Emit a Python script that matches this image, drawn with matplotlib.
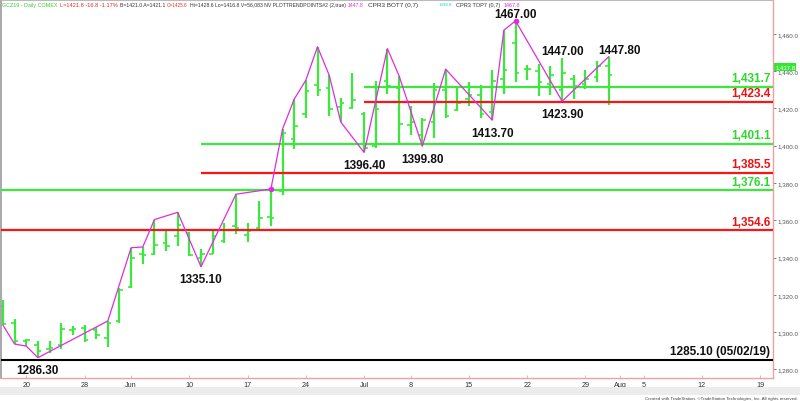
import matplotlib
matplotlib.use('agg')
import matplotlib.pyplot as plt
from matplotlib.textpath import TextPath
from matplotlib.font_manager import FontProperties
import numpy as np

plt.rcParams['font.family'] = ['Liberation Sans', 'DejaVu Sans']

# GCZ19 daily bars, 16 May .. 31 Jul 2019 (one entry per trading day)
opens = [1314.0, 1305.0, 1295.5, 1293.0, 1291.0, 1293.0, 1301.0, 1302.0, 1301.0, 1297.0,
         1306.0, 1324.0, 1342.0, 1342.0, 1348.0, 1351.8, 1353.0, 1340.0, 1342.0, 1349.0,
         1357.0, 1352.0, 1356.0, 1362.0, 1375.8, 1403.5, 1417.0, 1432.7, 1431.0, 1421.0,
         1420.5, 1417.0, 1400.0, 1435.0, 1431.0, 1411.0, 1406.0, 1413.0, 1430.0, 1419.0,
         1425.0, 1427.0, 1418.0, 1435.7, 1455.0, 1441.0, 1440.0, 1433.0, 1430.0, 1436.0,
         1433.0, 1437.0, 1443.0]
highs = [1317.0, 1306.9, 1296.5, 1295.2, 1295.0, 1305.1, 1303.1, 1303.7, 1303.0, 1306.0,
         1323.7, 1345.3, 1345.7, 1360.4, 1354.5, 1364.3, 1353.8, 1344.5, 1354.5, 1358.6,
         1374.0, 1358.6, 1370.2, 1376.8, 1409.0, 1425.0, 1435.2, 1453.1, 1437.9, 1425.6,
         1439.3, 1418.0, 1434.8, 1452.1, 1437.5, 1421.5, 1414.8, 1433.5, 1441.1, 1431.3,
         1434.0, 1432.6, 1440.7, 1462.0, 1467.0, 1443.4, 1443.7, 1442.8, 1447.0, 1437.9,
         1440.5, 1445.5, 1447.8]
lows = [1303.7, 1293.6, 1292.5, 1286.3, 1289.0, 1290.7, 1298.3, 1294.8, 1296.5, 1291.8,
        1305.1, 1323.7, 1336.4, 1341.4, 1343.6, 1346.2, 1340.9, 1335.1, 1341.8, 1348.0,
        1352.8, 1348.5, 1354.2, 1356.9, 1373.7, 1398.5, 1414.8, 1426.5, 1415.9, 1412.7,
        1419.8, 1396.4, 1398.9, 1427.8, 1400.6, 1406.0, 1399.8, 1404.2, 1414.8, 1418.4,
        1421.2, 1414.8, 1413.7, 1427.8, 1434.0, 1435.4, 1426.9, 1427.2, 1423.9, 1425.1,
        1430.4, 1434.0, 1422.0]
closes = [1304.5, 1295.0, 1295.7, 1290.0, 1291.5, 1301.5, 1301.5, 1296.0, 1298.5, 1305.0,
          1322.5, 1340.0, 1341.2, 1347.0, 1346.0, 1357.5, 1341.5, 1342.0, 1351.5, 1355.0,
          1355.7, 1354.0, 1361.0, 1361.0, 1407.0, 1410.5, 1429.5, 1430.0, 1419.5, 1423.0,
          1424.6, 1399.0, 1419.8, 1432.0, 1411.8, 1412.5, 1413.6, 1430.0, 1416.0, 1423.0,
          1427.0, 1417.0, 1434.8, 1440.5, 1439.0, 1441.0, 1434.0, 1438.0, 1439.3, 1432.0,
          1436.0, 1443.0, 1437.8]

tick_pos = [2, 7, 11, 16, 21, 26, 31, 35, 40, 45, 50, 53, 55, 60, 65]
tick_lab = ['20', '28', 'Jun', '10', '17', '24', 'Jul', '8', '15', '22', '29', 'Aug', '5', '12', '19']

# trend points (magenta zigzag)
swing_idx = [0, 1, 2, 3, 9, 11, 12, 13, 15, 17, 20, 23, 24, 25, 26, 27, 28, 29, 31, 33,
             34, 36, 38, 42, 43, 44, 48, 52]
swing_val = [1303.7, 1293.6, 1292.5, 1286.3, 1306.0, 1345.3, 1345.7, 1360.4, 1364.3, 1335.1,
             1374.0, 1376.8, 1409.0, 1425.0, 1435.2, 1453.1, 1437.9, 1412.7, 1396.4, 1452.1,
             1437.5, 1399.8, 1441.1, 1413.7, 1462.0, 1467.0, 1423.9, 1447.8]
dot_idx = [23, 44]
dot_val = [1376.8, 1467.0]

# swing labels
lbl_idx = [44, 48, 52, 48, 42, 36, 31, 17, 3]
lbl_val = [1467.0, 1447.0, 1447.8, 1423.9, 1413.7, 1399.8, 1396.4, 1335.1, 1286.3]
lbl_up = [True, True, True, False, False, False, False, False, False]

# horizontal levels (start None = from the left edge)
green_lv = [1431.7, 1401.1, 1376.1]
green_start = [31, 17, None]
red_lv = [1423.4, 1385.5, 1354.6]
red_start = [31, 17, None]
old_low = 1285.1
old_low_txt = '1285.10 (05/02/19)'

GREEN = '#3de83d'
RED = '#ff1414'
MAG = '#e02ce0'

W, H = 800, 402
fig = plt.figure(figsize=(W / 100, H / 100), dpi=100)
ax = fig.add_axes([1 / W, 23 / H, 772 / W, 378 / H])
XL, XR = -0.17, 66.1
ax.set_xlim(XL, XR)
ax.set_ylim(1275.4, 1478.2)

idx = np.arange(len(opens))
ax.vlines(idx, lows, highs, color=GREEN, lw=1.6, zorder=2)
ax.hlines(opens, idx - 0.3, idx, color=GREEN, lw=1.2, zorder=2)
ax.hlines(closes, idx, idx + 0.3, color=GREEN, lw=1.2, zorder=2)


def level(lv, st, col, tcol):
    x0 = XL if st is None else st
    ax.plot([x0, XR], [lv, lv], color=col, lw=1.6, zorder=3, solid_capstyle='butt')
    ax.annotate(f'{lv:,.1f}', xy=(1, lv), xycoords=('axes fraction', 'data'),
                xytext=(-1.5, 2), textcoords='offset points', ha='right', va='bottom',
                color=tcol, fontsize=8.5, fontweight='bold')


for lv, st in zip(green_lv, green_start):
    level(lv, st, GREEN, '#2ed82e')
for lv, st in zip(red_lv, red_start):
    level(lv, st, RED, '#ee1111')

ax.plot([XL, XR], [old_low, old_low], color='black', lw=1.5, zorder=3)
ax.annotate(old_low_txt, xy=(1, old_low), xycoords=('axes fraction', 'data'),
            xytext=(-2, 2), textcoords='offset points', ha='right', va='bottom',
            color='#111111', fontsize=8.5, fontweight='bold')

ax.plot(swing_idx, swing_val, color=MAG, lw=0.9, zorder=4)
ax.plot(dot_idx, dot_val, 'o', color=MAG, ms=3, zorder=5)

for i, v, up in zip(lbl_idx, lbl_val, lbl_up):
    dx = 8 if i == 52 else 0
    dy = 5 if up else -9
    ax.annotate(f'{v:.2f}', xy=(i, v), xytext=(dx, dy), textcoords='offset points',
                ha='center', va='center', fontsize=8.5, fontweight='bold', color='#111111')

# last price marker on the price scale
ax.annotate(f'{closes[-1]:,.1f}', xy=(1, closes[-1]), xycoords=('axes fraction', 'data'),
            xytext=(1.5, 6), textcoords='offset points', ha='left', va='center',
            fontsize=4.3, color='white', zorder=6, annotation_clip=False,
            bbox=dict(boxstyle='square,pad=0.2', fc='#33e633', ec='none'))

ax.yaxis.tick_right()
yt = np.arange(1280, 1461, 20)
ax.set_yticks(yt)
ax.set_yticklabels([f'{v:,.1f}' for v in yt])
ax.tick_params(axis='y', length=2.5, width=0.6, color='#666666', labelsize=4.5,
               labelcolor='#555555', pad=1)
ax.set_xticks(tick_pos)
ax.set_xticklabels(tick_lab)
ax.tick_params(axis='x', direction='in', length=2, width=0.6, color='#f0a0a0',
               labelsize=5.2, labelcolor='#333333', pad=2.5)

for s in ['right', 'bottom']:
    ax.spines[s].set_color('#f0a0a0')
    ax.spines[s].set_linewidth(1)
ax.spines['top'].set_color('#bbbbbb')
ax.spines['left'].set_color('#999999')
ax.spines['top'].set_linewidth(0.8)
ax.spines['left'].set_linewidth(1.2)

# header line: start and end pixel of each piece
hdr_x0 = [2, 60, 120, 167, 190, 348, 368, 439, 456, 504]
hdr_x1 = [57, 117, 165, 187, 345, 363, 436, 452, 500, 520]
hdr_txt = ['GCZ19 - Daily COMEX', 'L=1421.8 -16.8 -1.17%', 'B=1421.0 A=1421.1', 'O=1425.6',
           'Hi=1428.6 Lo=1416.8 V=56,083 NV PLOTTRENDPOINTS#2 (2,true)', '1447.8',
           'CPR3 BOT7 (0,7)', '1398.8', 'CPR3 TOP7 (0,7)', '1467.8']
hdr_col = ['#33cc33', '#ee2222', '#333333', '#ee2222', '#333333', '#e030e0',
           '#333333', '#22cccc', '#333333', '#e030e0']
fp = FontProperties(family='Liberation Sans')
for x0, x1, txt, col in zip(hdr_x0, hdr_x1, hdr_txt, hdr_col):
    # width in px of the text at 10 pt, then scale to the target width
    w10 = TextPath((0, 0), txt, size=10, prop=fp).get_extents().width * 100 / 72
    fs = min(10 * (x1 - x0) / w10, 4.6)
    fig.text(x0 / W, 1 - 5.5 / H, txt, color=col, fontsize=fs, ha='left', va='center')

# scroll strip and footer
fig.patches.append(plt.Rectangle((0, 1 - 396 / H), 1, 8 / H, transform=fig.transFigure,
                                 fc='#ececec', ec='none', zorder=0))
fig.text(798 / W, 1 - 399 / H,
         'Created with TradeStation. \u00a9TradeStation Technologies, Inc. All rights reserved.',
         fontsize=3.2, color='#444444', ha='right', va='center')

fig.savefig('out.png', dpi=100)
